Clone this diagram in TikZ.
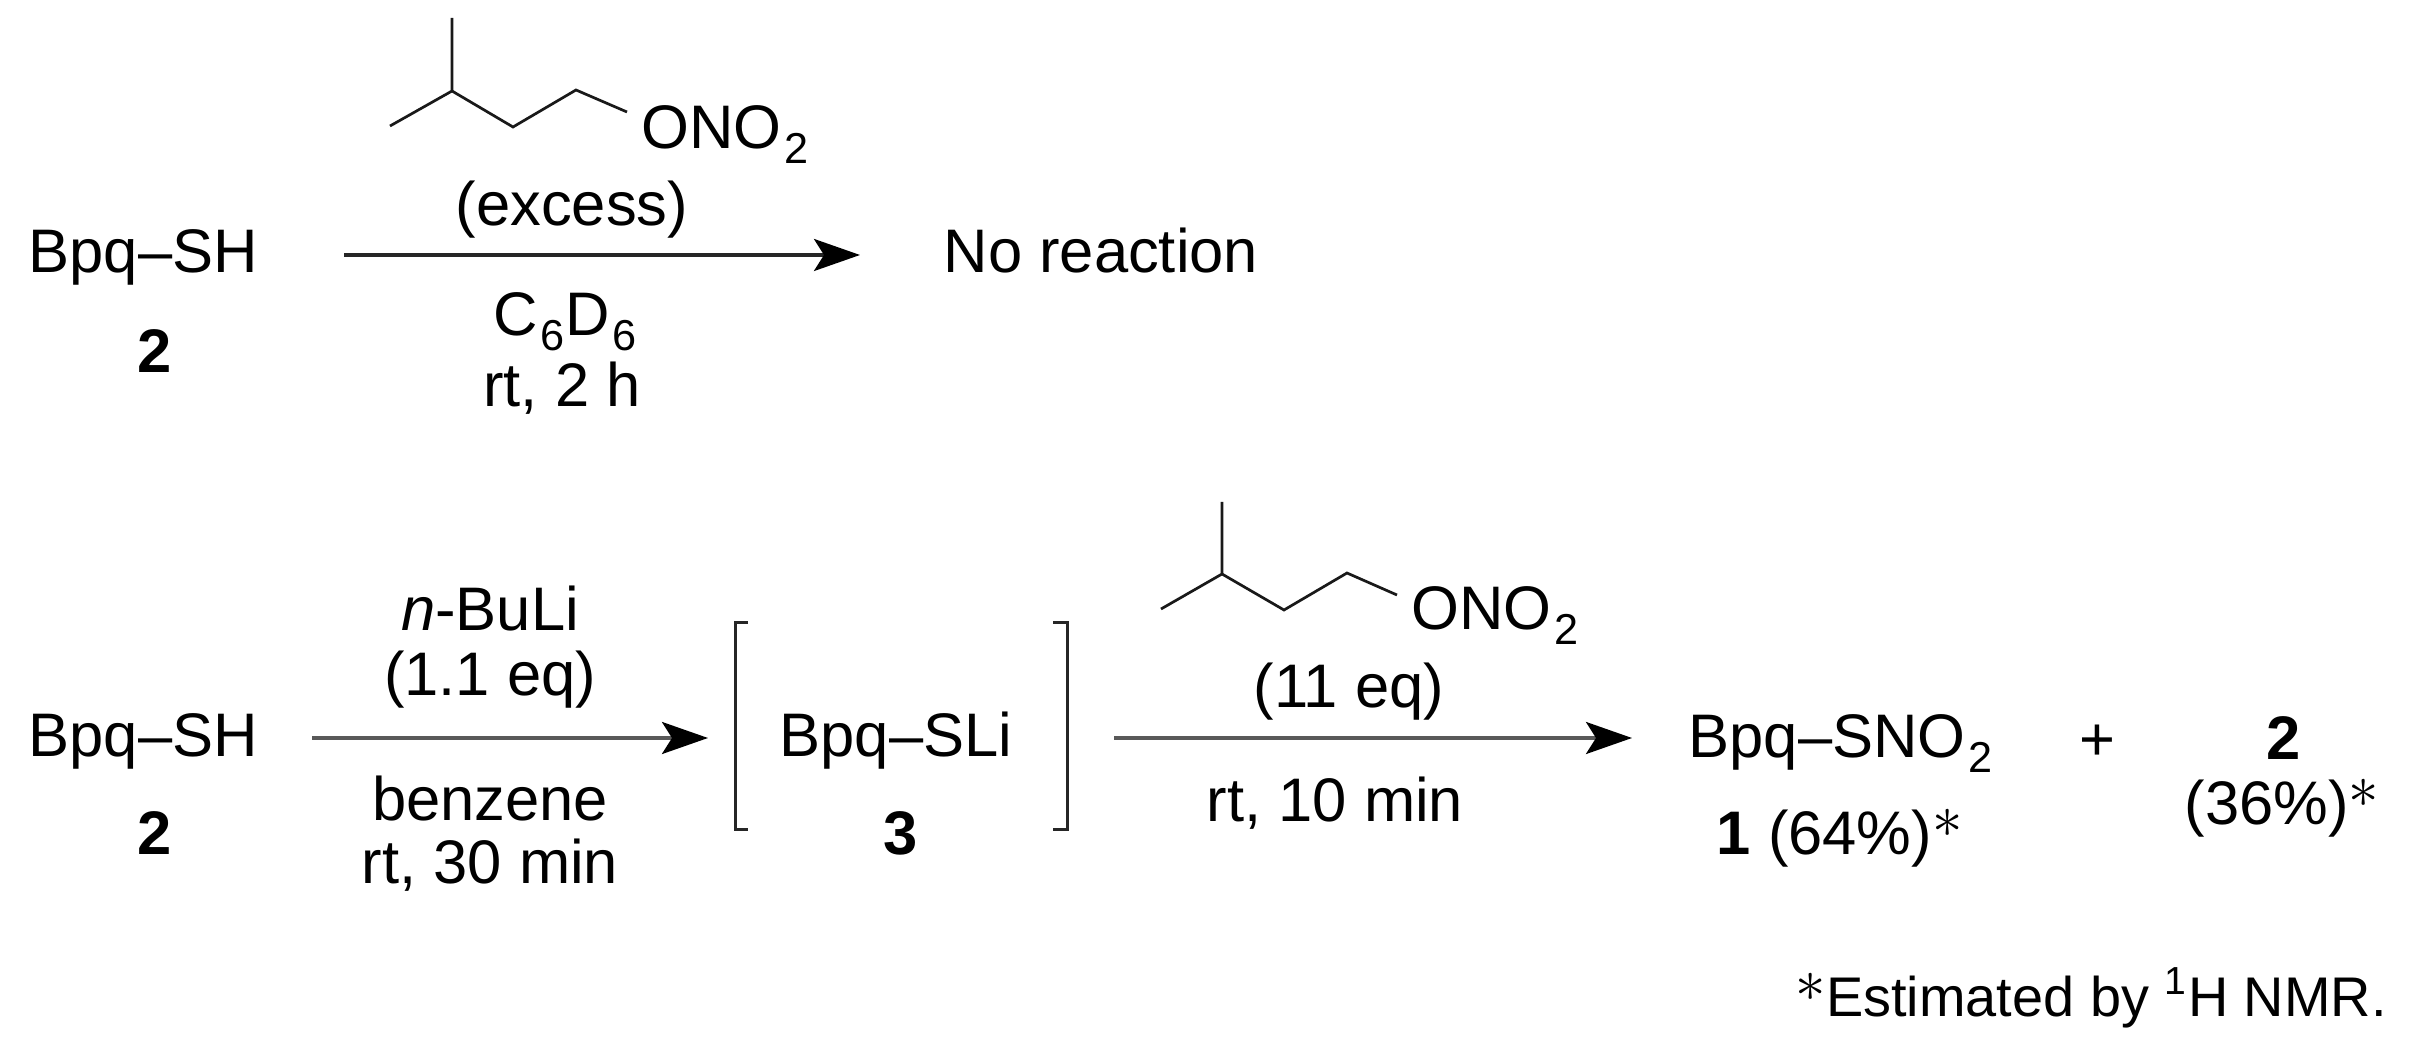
\documentclass[tikz,border=0pt]{standalone}
\usepackage{tikz, xcolor}
\usepackage{fontspec}
\setmainfont{Liberation Sans}
\usetikzlibrary{arrows.meta}

\newcommand{\subdigit}[1]{\kern0.8pt\raisebox{-4pt}{\fontsize{12.3}{14}\selectfont #1}}
\newcommand{\astmark}{\raisebox{0.28em}{$\ast$}}

\begin{document}
\begin{tikzpicture}[x=0.1mm, y=-0.1mm, >=Stealth,
    label/.style={inner sep=0pt, anchor=base, font=\fontsize{17.5}{20}\selectfont},
    leftlabel/.style={label, anchor=base west},
    react/.style={line width=0.34mm, color=black!85, arrows={-Stealth[length=4.6mm, width=3.2mm, inset=1mm, color=black]}},
    reactgray/.style={react, color=black!65},
    bond/.style={line width=0.27mm, color=black!90, line join=miter},
    brack/.style={line width=0.3mm, color=black!85}]

    \useasboundingbox (0,0) rectangle (2414,1048);

    % top reaction
    \node[leftlabel] (sh1) at (28,273) {Bpq–SH};
    \node[label] (no1) at (155,373) {\textbf{2}};
    \coordinate (arr1a) at (344,255);
    \coordinate (arr1b) at (860,255);
    \draw[react] (arr1a) -- (arr1b);
    \node[leftlabel] (noreact) at (943,273) {No reaction};
    \node[label] (excess) at (572,226) {(excess)};
    \node[label] (solv1) at (565,336) {C\subdigit{6}D\subdigit{6}};
    \node[label] (time1) at (562,407) {rt, 2 h};

    \coordinate (a1) at (452,18);
    \coordinate (a2) at (452,91);
    \coordinate (a3) at (390,126);
    \coordinate (a4) at (513,127);
    \coordinate (a5) at (576,90);
    \coordinate (a6) at (627,112);
    \draw[bond] (a1) -- (a2) -- (a3);
    \draw[bond] (a2) -- (a4) -- (a5) -- (a6);
    \node[leftlabel] (ono1) at (641,149) {ONO\subdigit{2}};

    % bottom reaction
    \node[leftlabel] (sh2) at (28,757) {Bpq–SH};
    \node[label] (no2) at (155,855) {\textbf{2}};
    \coordinate (arr2a) at (312,738);
    \coordinate (arr2b) at (708,738);
    \draw[reactgray] (arr2a) -- (arr2b);
    \node[label] (buli) at (490,631) {\textit{n}-BuLi};
    \node[label] (eq1) at (490,696) {(1.1 eq)};
    \node[label] (benz) at (490,821) {benzene};
    \node[label] (time2) at (490,884) {rt, 30 min};

    \coordinate (bl1) at (748,623);
    \coordinate (bl2) at (735,623);
    \coordinate (bl3) at (735,830);
    \coordinate (bl4) at (748,830);
    \coordinate (br1) at (1053,623);
    \coordinate (br2) at (1067,623);
    \coordinate (br3) at (1067,830);
    \coordinate (br4) at (1053,830);
    \draw[brack] (bl1) -- (bl2) -- (bl3) -- (bl4);
    \draw[brack] (br1) -- (br2) -- (br3) -- (br4);
    \node[label] (sli) at (896,757) {Bpq–SLi};
    \node[label] (no3) at (901,855) {\textbf{3}};

    \coordinate (arr3a) at (1114,738);
    \coordinate (arr3b) at (1632,738);
    \draw[reactgray] (arr3a) -- (arr3b);
    \node[label] (eq2) at (1349,708) {(11 eq)};
    \node[label] (time3) at (1335,822) {rt, 10 min};

    \coordinate (b1) at (1222,502);
    \coordinate (b2) at (1222,574);
    \coordinate (b3) at (1161,609);
    \coordinate (b4) at (1284,610);
    \coordinate (b5) at (1347,573);
    \coordinate (b6) at (1397,595);
    \draw[bond] (b1) -- (b2) -- (b3);
    \draw[bond] (b2) -- (b4) -- (b5) -- (b6);
    \node[leftlabel] (ono2) at (1411,630) {ONO\subdigit{2}};

    \node[leftlabel] (sno) at (1688,758) {Bpq–SNO\subdigit{2}};
    \node[label] (plus) at (2097,761) {+};
    \node[label] (no4) at (2284,760) {\textbf{2}};
    \node[label] (yield2) at (2282,825) {(36\%)\astmark};
    \node[leftlabel] (yield1) at (1716,855) {\textbf{1} (64\%)\astmark};
    \node[leftlabel, font=\fontsize{15.9}{20}\selectfont] (note) at (1795,1017) {\astmark Estimated by \textsuperscript{1}H NMR.};
\end{tikzpicture}
\end{document}
